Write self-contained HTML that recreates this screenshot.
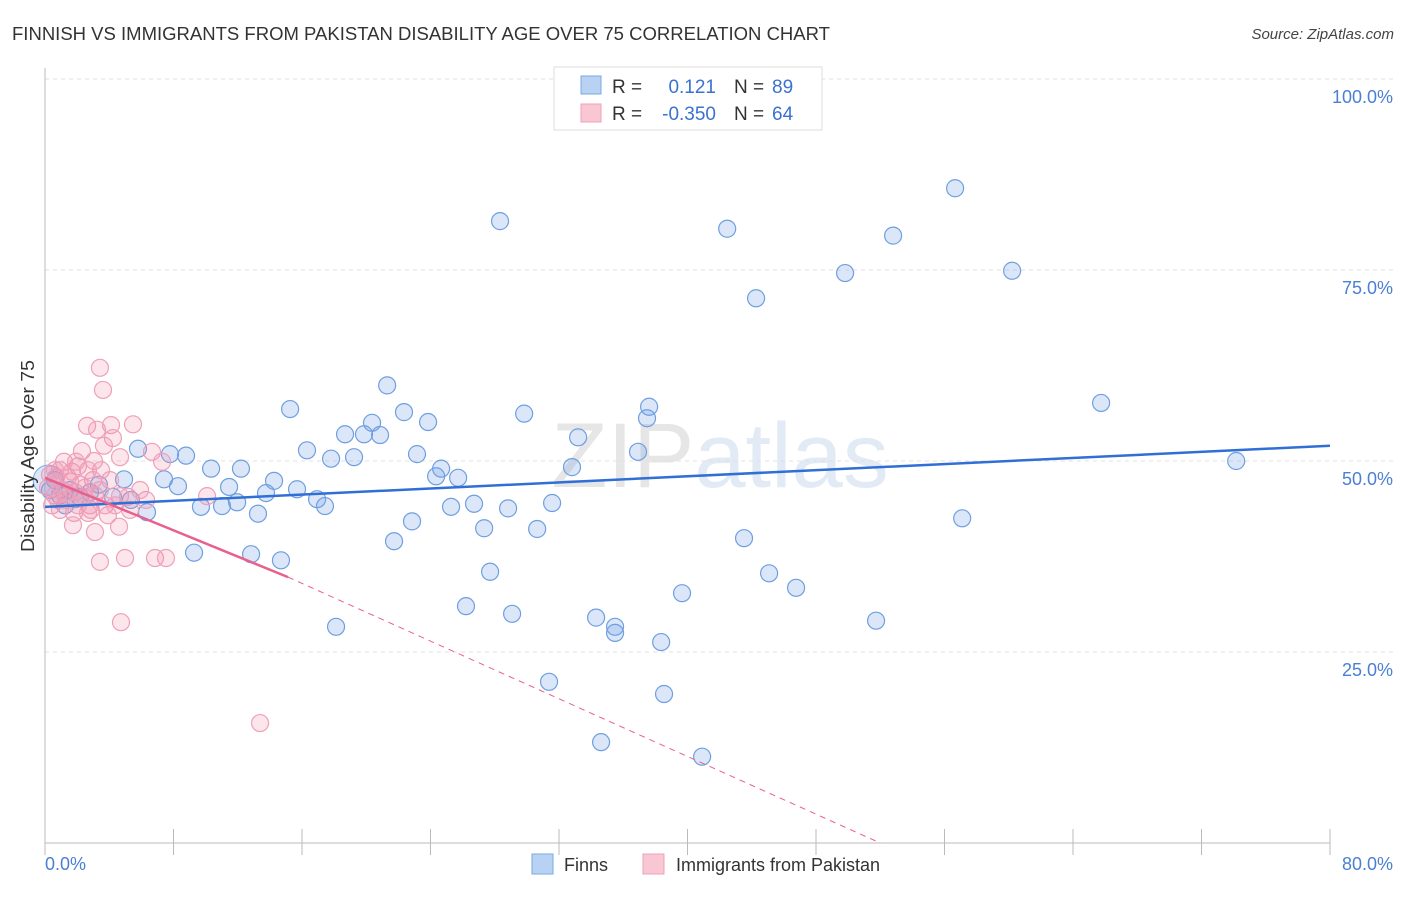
<!DOCTYPE html>
<html><head><meta charset="utf-8"><style>
body{margin:0;background:#fff;font-family:"Liberation Sans",sans-serif;}
svg text{font-family:"Liberation Sans",sans-serif;}
</style></head><body>
<svg id="chart" width="1406" height="892" xmlns="http://www.w3.org/2000/svg">
<text x="12" y="40" font-size="18" fill="#333" textLength="818" lengthAdjust="spacingAndGlyphs">FINNISH VS IMMIGRANTS FROM PAKISTAN DISABILITY AGE OVER 75 CORRELATION CHART</text>
<text x="1394" y="39" font-size="15" fill="#444" text-anchor="end" font-style="italic">Source: ZipAtlas.com</text>
<text x="720" y="487" font-size="92" fill="#e6e9ef" text-anchor="middle" font-family="Liberation Serif"><tspan fill="#e6e6e6">ZIP</tspan><tspan fill="#e2eaf6" font-family="Liberation Sans">atlas</tspan></text>
<g id="grid"></g>
<g id="axes"></g>
<g id="pts"></g>
<g id="trends"></g>
<text transform="translate(34,456) rotate(-90)" font-size="18" fill="#333" text-anchor="middle" textLength="192" lengthAdjust="spacingAndGlyphs">Disability Age Over 75</text>
<text x="45" y="870" font-size="18" fill="#4a7fd4">0.0%</text>
<text x="1393" y="870" font-size="18" fill="#4a7fd4" text-anchor="end">80.0%</text>
<g>
<rect x="554" y="67" width="268" height="63" fill="#fff" stroke="#ddd"/>
<rect x="581" y="76" width="20" height="18" fill="#b8d2f4" stroke="#7aa8e6"/>
<rect x="581" y="104" width="20" height="18" fill="#f9c6d4" stroke="#f0a0b8"/>
<text x="612" y="93" font-size="19" fill="#333">R =</text>
<text x="716" y="93" font-size="19" fill="#3a72d0" text-anchor="end">0.121</text>
<text x="734" y="93" font-size="19" fill="#333">N =</text>
<text x="772" y="93" font-size="19" fill="#3a72d0">89</text>
<text x="612" y="120" font-size="19" fill="#333">R =</text>
<text x="716" y="120" font-size="19" fill="#3a72d0" text-anchor="end">-0.350</text>
<text x="734" y="120" font-size="19" fill="#333">N =</text>
<text x="772" y="120" font-size="19" fill="#3a72d0">64</text>
</g>
<g>
<rect x="532" y="854" width="21" height="20" fill="#b8d2f4" stroke="#7aa8e6"/>
<text x="564" y="871" font-size="18" fill="#333">Finns</text>
<rect x="643" y="854" width="21" height="20" fill="#f9c6d4" stroke="#f0a0b8"/>
<text x="676" y="871" font-size="18" fill="#333">Immigrants from Pakistan</text>
</g>
</svg>
<script>
const yTicks=[25,50,75,100];
const yTickLabels=["25.0%","50.0%","75.0%","100.0%"];
const xTicks=[0,8,16,24,32,40,48,56,64,72,80];
const finnsX=[28.33,42.47,56.66,52.80,49.81,60.21,44.27,21.30,15.26,22.35,29.83,37.61,37.48,65.75,20.36,23.85,18.68,19.86,20.86,16.31,33.19,5.79,7.78,8.78,17.81,19.24,23.16,36.92,74.16,32.81,10.34,12.20,24.66,24.35,25.72,4.92,7.41,8.28,14.26,15.69,11.46,13.76,16.94,17.43,9.71,11.02,11.96,13.26,6.35,3.36,4.23,5.35,26.71,25.28,28.83,31.57,57.10,22.85,27.34,30.64,21.73,43.52,9.28,12.83,14.69,27.71,45.08,46.76,39.66,26.21,29.08,34.31,35.49,35.49,51.74,18.12,38.36,31.38,38.54,34.62,40.91,0.93,1.56,2.18,2.80,0.62,1.25,1.87,0.31];
const finnsY=[81.4,80.4,85.7,79.5,74.6,74.9,71.3,59.9,56.8,56.4,56.2,57.1,55.6,57.6,55.0,55.1,53.5,53.5,53.4,51.4,53.1,51.6,50.9,50.7,50.3,50.5,50.9,51.2,50.0,49.2,49.0,49.0,49.0,48.0,47.8,47.6,47.6,46.7,47.4,46.3,46.6,45.8,45.0,44.1,44.0,44.1,44.6,43.1,43.3,46.9,45.3,44.9,44.4,44.0,43.8,44.5,42.5,42.1,41.2,41.1,39.5,39.9,38.0,37.8,37.0,35.5,35.3,33.4,32.7,31.0,30.0,29.5,28.3,27.5,29.1,28.3,26.3,21.1,19.5,13.2,11.3,45.5,46.2,45.3,45.9,47.5,44.2,45.0,46.2];
const pakX=[3.42,3.61,2.62,4.11,5.48,3.24,4.23,2.30,3.67,6.66,7.29,2.05,3.05,4.67,3.49,2.99,0.68,1.56,1.06,1.87,2.43,2.80,0.62,1.31,0.19,4.67,5.17,6.29,10.09,2.86,3.92,1.81,2.68,1.74,3.11,4.61,3.42,4.98,6.85,7.53,4.73,13.39,0.93,0.31,2.18,0.81,1.43,2.49,3.74,3.11,1.68,1.18,0.44,4.05,2.05,2.68,0.93,3.42,4.36,1.31,1.93,0.62,5.29,5.92];
const pakY=[62.2,59.3,54.6,54.7,54.8,54.1,53.0,51.3,52.0,51.2,49.9,49.3,50.0,50.5,48.8,47.5,47.8,47.3,46.2,45.9,45.3,44.2,45.5,44.9,46.5,45.4,45.3,44.9,45.4,43.6,42.9,43.2,43.2,41.6,40.7,41.4,36.8,37.3,37.3,37.3,28.9,15.7,48.8,48.2,46.9,44.9,47.8,46.5,44.2,45.5,48.6,49.9,44.2,47.5,44.2,48.8,43.6,46.2,44.2,45.9,49.9,48.8,43.6,46.2];
const finnsTrend=[44.0,52.0];
const pakTrend=[47.8,34.8]; const pakSolidEnd=15.13; const pakZeroX=52.0;

const NS="http://www.w3.org/2000/svg";
const X=v=>45+v*16.0625, Y=v=>843-v*7.64;
function mk(tag,attrs,parent){const e=document.createElementNS(NS,tag);for(const k in attrs)e.setAttribute(k,attrs[k]);parent.appendChild(e);return e;}
const grid=document.getElementById('grid'),axes=document.getElementById('axes'),pts=document.getElementById('pts'),tr=document.getElementById('trends');
yTicks.forEach((t,i)=>{
 const l=mk('line',{x1:45,x2:1393,y1:Y(t),y2:Y(t),stroke:'#e0e0e0','stroke-dasharray':'4,4'},grid);
 
 
 const tx=mk('text',{x:1393,y:Y(t)+24,'font-size':18,fill:'#4a7fd4','text-anchor':'end'},grid);
 tx.textContent=yTickLabels[i];
 
 
});
const xa=mk('line',{x1:45,x2:1330,y1:843,y2:843,stroke:'#bbb'},axes);


const ya=mk('line',{x1:45,x2:45,y1:68,y2:843,stroke:'#bbb'},axes);


xTicks.forEach(t=>{const l=mk('line',{x1:X(t),x2:X(t),y1:829,y2:855,stroke:'#bbb'},axes);
 
 });
function dots(xs,ys,fill,stroke,name){xs.forEach((x,i)=>{const c=mk('circle',{cx:X(x),cy:Y(ys[i]),r:8.5,fill:fill,stroke:stroke,'stroke-width':1.2},pts);
 
 });}
const big=mk('circle',{cx:X(0.2),cy:Y(47.5),r:15,fill:'rgba(110,160,230,0.25)',stroke:'#7aa8e6'},pts);


dots(finnsX,finnsY,'rgba(110,160,230,0.25)','#6f9fe0','finns-point');
dots(pakX,pakY,'rgba(240,140,170,0.22)','#eea0ba','pakistan-point');
const ft=mk('line',{x1:X(0),y1:Y(finnsTrend[0]),x2:X(80),y2:Y(finnsTrend[1]),stroke:'#2f6fd6','stroke-width':2.5},tr);


const ps=mk('line',{x1:X(0),y1:Y(pakTrend[0]),x2:X(pakSolidEnd),y2:Y(pakTrend[1]),stroke:'#e8608c','stroke-width':2.5},tr);


const pd=mk('line',{x1:X(pakSolidEnd),y1:Y(pakTrend[1]),x2:X(pakZeroX),y2:Y(0),stroke:'#e8608c','stroke-width':1,'stroke-dasharray':'6,5'},tr);


</script>
</body></html>
